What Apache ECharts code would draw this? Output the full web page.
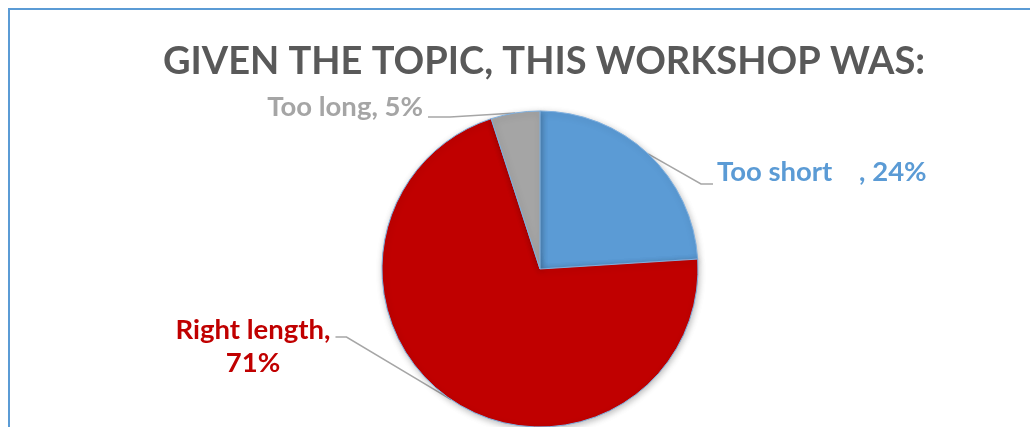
<!DOCTYPE html>
<html>
<head>
<meta charset="utf-8">
<script src="https://cdn.jsdelivr.net/npm/echarts@6/dist/echarts.min.js"></script>
<style>
  html, body { margin: 0; padding: 0; background: #fff; }
  #main { width: 1030px; height: 427px; }
</style>
</head>
<body>
<div id="main"></div>
<script>
// data
var categories = ["Too short    ", "Right length", "Too long"];
var percents = [24, 71, 5];
var labelSep = [", ", ",\n", ", "];
var colors = ["#5B9BD5", "#C00000", "#A5A5A5"];

// where each label sits (x, y of anchor) and how it is aligned
var labelPos = [
  { x: 717, y: 172, align: "left" },
  { x: 253, y: 347, align: "center" },
  { x: 423, y: 107, align: "right" }
];

var myChart = echarts.init(document.getElementById("main"));

myChart.setOption({
  animation: false,
  backgroundColor: "#ffffff",
  title: {
    text: "GIVEN THE TOPIC, THIS WORKSHOP WAS:",
    left: 539,
    top: 38,
    textAlign: "center",
    textStyle: {
      fontFamily: "Lato",
      fontWeight: "bold",
      fontSize: 38,
      color: "#595959"
    }
  },
  graphic: [
    {
      type: "rect",
      shape: { x: 9, y: 9, width: 1200, height: 600 },
      style: { fill: "none", stroke: "#5B9BD5", lineWidth: 2 },
      silent: true
    }
  ],
  series: [
    {
      type: "pie",
      center: [540, 269],
      radius: 158,
      startAngle: 90,
      clockwise: true,
      avoidLabelOverlap: false,
      itemStyle: {
        borderColor: "#7FB0E0",
        borderWidth: 1,
        shadowBlur: 6,
        shadowColor: "rgba(0,0,0,0.25)",
        shadowOffsetX: 1,
        shadowOffsetY: 2
      },
      label: {
        show: true,
        position: "outside",
        fontFamily: "Lato",
        fontWeight: "bold",
        fontSize: 27.5,
        lineHeight: 33,
        formatter: function (p) {
          return p.name + labelSep[p.dataIndex] + p.value + "%";
        }
      },
      labelLine: {
        show: true,
        smooth: false,
        lineStyle: { color: "#A6A6A6", width: 1.5 }
      },
      labelLayout: function (p) {
        var i = p.dataIndex;
        var pos = labelPos[i];
        var w = p.labelRect.width;
        var start = p.labelLinePoints ? p.labelLinePoints[0] : [0, 0];
        var end, bend;
        if (i === 0) {
          end = [pos.x - 4, pos.y + 12];
          bend = [end[0] - 12, end[1]];
        } else if (i === 1) {
          end = [pos.x + w / 2 + 5, pos.y - 10];
          bend = [end[0] + 11, end[1]];
        } else {
          end = [pos.x + 5, pos.y + 10];
          bend = [end[0] + 22, end[1]];
        }
        return {
          x: pos.x,
          y: pos.y,
          align: pos.align,
          verticalAlign: "middle",
          labelLinePoints: [start, bend, end]
        };
      },
      data: categories.map(function (name, i) {
        return {
          name: name,
          value: percents[i],
          itemStyle: { color: colors[i] },
          label: { color: colors[i] }
        };
      })
    }
  ]
});
</script>
</body>
</html>
